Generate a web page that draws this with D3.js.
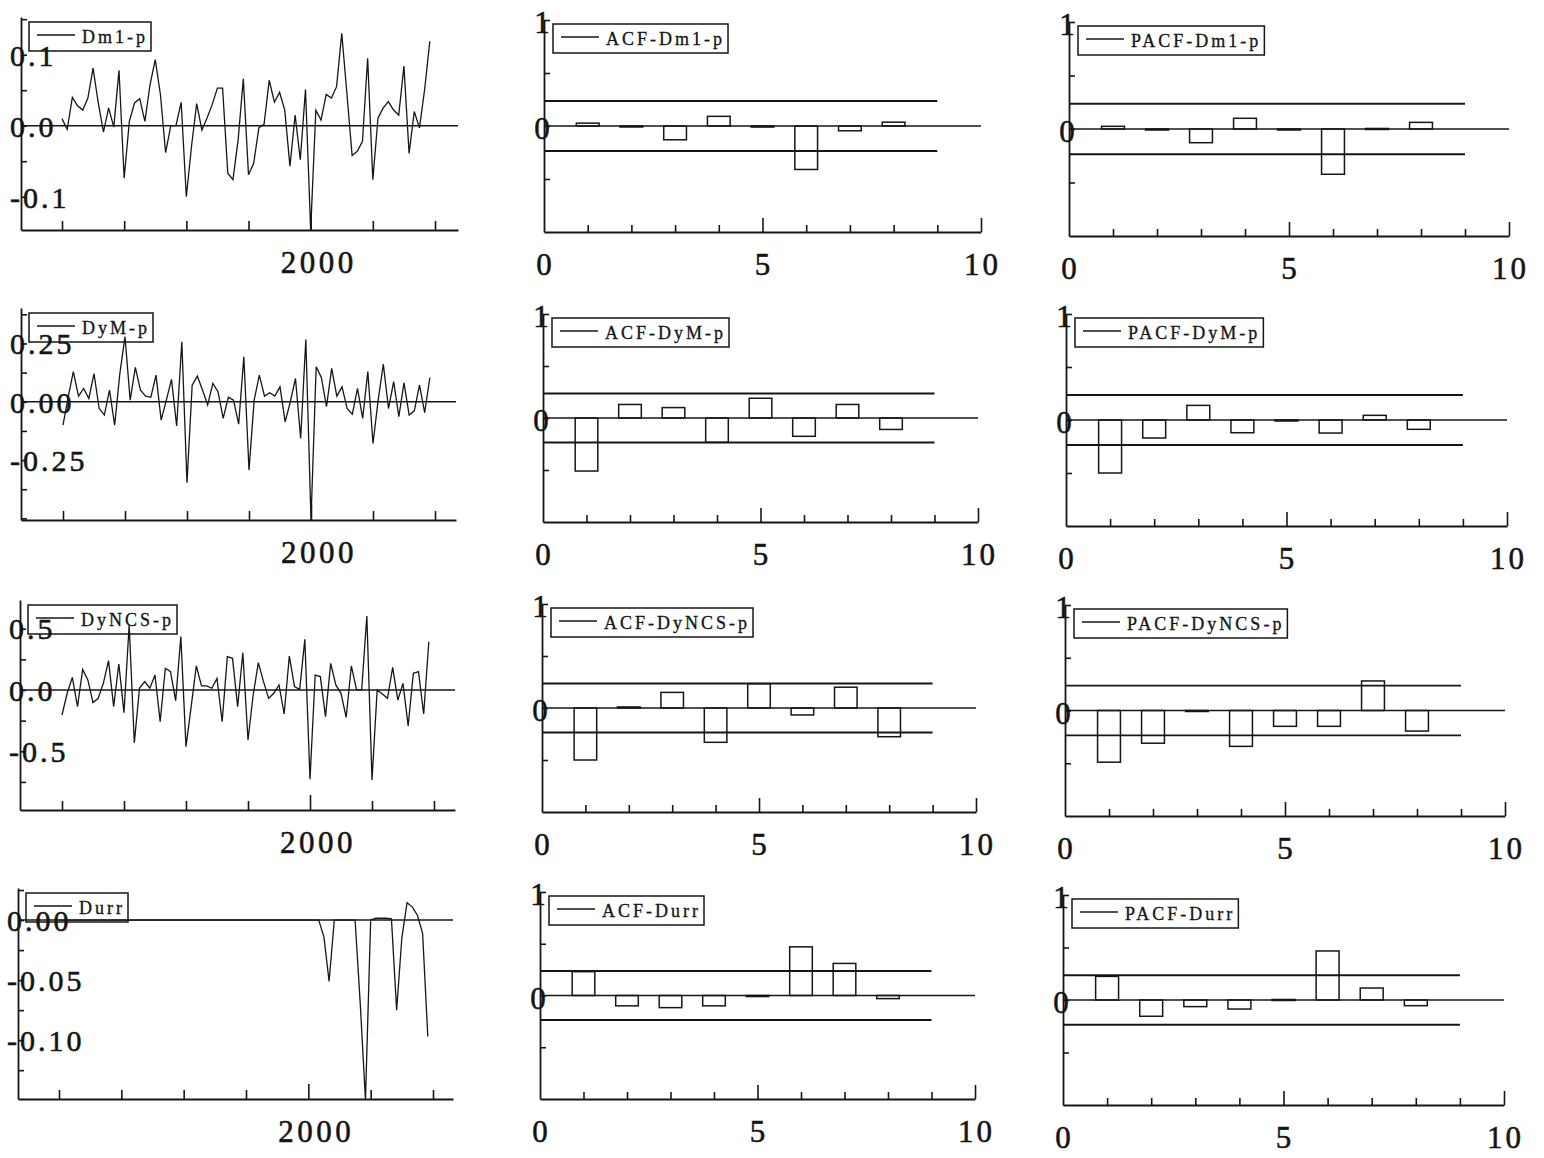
<!DOCTYPE html>
<html>
<head>
<meta charset="utf-8">
<script src="https://cdn.jsdelivr.net/npm/d3@7"></script>
<style>
  html, body { margin: 0; padding: 0; background: #fff; }
  svg text { font-family: "Liberation Serif", "Times New Roman", serif; fill: #141414; }
  svg text.tick-label { stroke: #141414; stroke-width: 0.55px; }
  svg text.legend-label { stroke: #141414; stroke-width: 0.3px; }
</style>
</head>
<body>
<svg id="chart" width="1544" height="1158"></svg>
<script>
// ---------------- data ----------------
const seriesNames = ["Dm1-p", "DyM-p", "DyNCS-p", "Durr"];
const startYear = 1996;                       // monthly observations from January 1996

const dm1p = [0.010,-0.005,0.040,0.028,0.022,0.039,0.081,0.032,-0.009,0.025,
  -0.002,0.078,-0.074,0.006,0.032,0.038,0.006,0.058,0.093,0.044,
  -0.038,0.000,0.000,0.033,-0.100,-0.029,0.031,-0.006,0.011,0.030,
  0.053,0.053,-0.067,-0.076,-0.020,0.066,-0.069,-0.053,-0.003,0.002,
  0.064,0.033,0.047,0.022,-0.057,0.015,-0.048,0.051,-0.147,0.022,
  0.008,0.044,0.039,0.055,0.130,0.045,-0.042,-0.036,-0.022,0.095,
  -0.076,0.011,0.025,0.034,0.022,0.015,0.084,-0.039,0.020,-0.003,
  0.051,0.119];

const dymp = [-0.100,0.020,0.129,0.024,0.057,0.014,0.121,-0.029,-0.057,0.050,
  -0.100,0.121,0.279,0.007,0.147,0.050,0.024,0.019,0.114,-0.079,
  0.007,0.096,-0.104,0.257,-0.347,0.071,0.110,0.050,-0.014,0.079,
  0.043,-0.071,0.019,0.007,-0.096,0.193,-0.293,0.007,0.114,0.024,
  0.039,0.024,0.064,-0.086,0.000,0.100,-0.157,0.267,-0.507,0.150,
  0.104,-0.021,0.143,0.024,0.064,-0.029,-0.053,0.057,-0.071,0.129,
  -0.179,0.007,0.161,-0.029,0.086,-0.064,0.081,-0.057,-0.039,0.071,
  -0.047,0.103];

const dyncsp = [-0.204,-0.027,0.103,-0.136,0.168,0.082,-0.103,-0.068,0.054,0.239,
  -0.136,0.212,-0.185,0.530,-0.430,0.014,0.068,0.014,0.122,-0.258,
  0.177,0.150,-0.087,0.435,-0.462,-0.136,0.196,0.033,0.033,0.014,
  0.095,-0.258,0.272,0.258,-0.136,0.304,-0.408,-0.041,0.223,0.068,
  -0.068,-0.027,0.041,-0.196,0.277,0.027,0.005,0.413,-0.728,0.122,
  0.109,-0.217,0.217,0.041,-0.027,-0.223,0.196,0.005,0.000,0.603,
  -0.734,0.000,-0.033,-0.068,0.185,-0.082,0.054,-0.293,0.136,0.149,
  -0.196,0.394];

const durr = [0,0,0,0,0,0,0,0,0,0,
  0,0,0,0,0,0,0,0,0,0,
  0,0,0,0,0,0,0,0,0,0,
  0,0,0,0,0,0,0,0,0,0,
  0,0,0,0,0,0,0,0,0,0,
  0,-0.014,-0.051,0,0,0,0,0,-0.070,-0.150,
  0,0.0015,0.0015,0.0015,0.001,-0.075,-0.015,0.0144,0.011,0.004,
  -0.011,-0.097];

const lags = [1, 2, 3, 4, 5, 6, 7, 8];
const acfDm1p    = [0.027, -0.005, -0.130, 0.091, -0.010, -0.410, -0.045, 0.036];
const pacfDm1p   = [0.025, -0.005, -0.128, 0.100, -0.005, -0.423, 0.005, 0.062];
const acfDyMp    = [-0.510, 0.130, 0.100, -0.234, 0.190, -0.176, 0.130, -0.110];
const pacfDyMp   = [-0.500, -0.170, 0.138, -0.120, -0.005, -0.123, 0.044, -0.088];
const acfDyNCSp  = [-0.500, 0.010, 0.150, -0.330, 0.234, -0.067, 0.200, -0.276];
const pacfDyNCSp = [-0.490, -0.310, -0.005, -0.340, -0.150, -0.150, 0.280, -0.195];
const acfDurr    = [0.230, -0.100, -0.117, -0.100, -0.010, 0.470, 0.310, -0.030];
const pacfDurr   = [0.225, -0.155, -0.063, -0.086, 0.005, 0.467, 0.114, -0.054];
const confBand   = 0.236;                     // ±2/√n significance limits

// tick values and labels
const tsTickYears = [1996, 1997, 1998, 1999, 2000, 2001, 2002];
const tsLabelYears = [2000];
const tsYTicks = [
  [-0.1, -0.05, 0, 0.05, 0.1, 0.15],
  [-0.5, -0.375, -0.25, -0.125, 0, 0.125, 0.25, 0.375],
  [-0.75, -0.5, -0.25, 0, 0.25, 0.5],
  [-0.125, -0.1, -0.075, -0.05, -0.025, 0, 0.025]
];
const tsYLabelValues = [[0.1, 0, -0.1], [0.25, 0, -0.25], [0.5, 0, -0.5], [0, -0.05, -0.10]];
const tsYLabelText = [["0.1", "0.0", "-0.1"], ["0.25", "0.00", "-0.25"], ["0.5", "0.0", "-0.5"], ["0.00", "-0.05", "-0.10"]];
const lagTicks = [1, 2, 3, 4, 5, 6, 7, 8, 9, 10];
const lagMajorTicks = [5, 10];
const lagLabels = [0, 5, 10];
const corrYTicks = [-0.5, 0, 0.5, 1];
const corrYLabelValues = [1, 0];

// ---------------- layout ----------------
const tsLayout = [
  { ax: 21, top: 17,  bottom: 230,  right: 458, x0: 62, x1: 435, yDomain: [-0.1469, 0.1531] },
  { ax: 21, top: 308, bottom: 520,  right: 456, x0: 63, x1: 435, yDomain: [-0.507, 0.402] },
  { ax: 20, top: 600, bottom: 810,  right: 455, x0: 62, x1: 434, yDomain: [-0.979, 0.734] },
  { ax: 18, top: 888, bottom: 1099, right: 453, x0: 59, x1: 433, yDomain: [-0.149, 0.0267] }
];
const acfLayout = [
  { ax: 544, top: 20,  bottom: 232,  x10: 981 },
  { ax: 543, top: 314, bottom: 522,  x10: 978 },
  { ax: 542, top: 604, bottom: 812,  x10: 976 },
  { ax: 540, top: 892, bottom: 1099, x10: 975 }
];
const pacfLayout = [
  { ax: 1069, top: 22,  bottom: 236,  x10: 1509 },
  { ax: 1066, top: 314, bottom: 526,  x10: 1507 },
  { ax: 1065, top: 605, bottom: 816,  x10: 1505 },
  { ax: 1063, top: 895, bottom: 1105, x10: 1504 }
];

const INK = "#161616";
const svg = d3.select("#chart");

function legend(g, x0, y0, label) {
  const lg = g.append("g");
  const t = lg.append("text")
    .attr("class", "legend-label")
    .attr("x", x0 + 53).attr("y", y0 + 21)
    .attr("font-size", 18).attr("letter-spacing", 3)
    .text(label);
  const w = t.node().getComputedTextLength();
  lg.insert("rect", "text")
    .attr("x", x0).attr("y", y0)
    .attr("width", 53 + w + 3).attr("height", 29)
    .attr("fill", "none").attr("stroke", INK).attr("stroke-width", 1.5);
  lg.append("line")
    .attr("x1", x0 + 8).attr("x2", x0 + 46)
    .attr("y1", y0 + 13).attr("y2", y0 + 13)
    .attr("stroke", INK).attr("stroke-width", 1.3);
}

function styleAxis(sel) {
  sel.select(".domain").attr("stroke", INK).attr("stroke-width", 1.8);
  sel.selectAll(".tick line").attr("stroke", INK).attr("stroke-width", 1.6);
  sel.selectAll(".tick text").remove();
}

// ---------------- time-series panels ----------------
function drawSeries(row, values, name) {
  const cfg = tsLayout[row];
  const g = svg.append("g");
  const yearScale = d3.scaleLinear()
    .domain([tsTickYears[0], tsTickYears[tsTickYears.length - 1]])
    .range([cfg.x0, cfg.x1]);
  const x = d3.scaleLinear()
    .domain([yearScale.invert(cfg.ax), yearScale.invert(cfg.right)])
    .range([cfg.ax, cfg.right]);
  const y = d3.scaleLinear().domain(cfg.yDomain).range([cfg.bottom, cfg.top]);

  // zero reference
  g.append("line")
    .attr("x1", cfg.ax).attr("x2", cfg.right)
    .attr("y1", y(0)).attr("y2", y(0))
    .attr("stroke", INK).attr("stroke-width", 1.5);

  legend(g, cfg.ax + 8, cfg.top + 5, name);

  const pts = values.map((v, i) => ({ t: startYear + i / 12, v }));
  g.append("path")
    .datum(pts)
    .attr("fill", "none").attr("stroke", INK).attr("stroke-width", 1.3)
    .attr("stroke-linejoin", "miter")
    .attr("d", d3.line().x(d => x(d.t)).y(d => y(d.v)));

  const yAxis = g.append("g")
    .attr("transform", `translate(${cfg.ax},0)`)
    .call(d3.axisLeft(y).tickValues(tsYTicks[row]).tickSizeInner(-6).tickSizeOuter(0).tickFormat(""));
  styleAxis(yAxis);

  const xAxis = g.append("g")
    .attr("transform", `translate(0,${cfg.bottom})`)
    .call(d3.axisBottom(x).tickValues(tsTickYears).tickSizeInner(-9).tickSizeOuter(0).tickFormat(""));
  styleAxis(xAxis);
  xAxis.selectAll(".tick").filter(d => tsLabelYears.includes(d)).select("line").attr("y2", -15);

  g.selectAll("text.ylab")
    .data(tsYLabelValues[row])
    .join("text")
    .attr("class", "ylab tick-label")
    .attr("x", cfg.ax - 11)
    .attr("y", d => y(d))
    .attr("dy", "0.36em")
    .attr("font-size", 30).attr("letter-spacing", 3)
    .text((d, i) => tsYLabelText[row][i]);

  g.selectAll("text.xlab")
    .data(tsLabelYears)
    .join("text")
    .attr("class", "xlab tick-label")
    .attr("x", d => x(d) + 8)
    .attr("y", cfg.bottom + 43)
    .attr("text-anchor", "middle")
    .attr("font-size", 31).attr("letter-spacing", 3.5)
    .text(d => d);
}

// ---------------- correlogram panels ----------------
function drawCorrelogram(cfg, values, name) {
  const g = svg.append("g");
  const x = d3.scaleLinear().domain([0, 10]).range([cfg.ax, cfg.x10]);
  const y = d3.scaleLinear().domain([-1, 1]).range([cfg.bottom, cfg.top]);
  const barW = x(0.52) - x(0);

  legend(g, cfg.ax + 9, cfg.top + 4, name);

  // bars
  g.selectAll("rect.bar")
    .data(lags.map((k, i) => ({ k, v: values[i] })))
    .join("rect")
    .attr("class", "bar")
    .attr("x", d => x(d.k) - barW / 2)
    .attr("width", barW)
    .attr("y", d => Math.min(y(d.v), y(0)))
    .attr("height", d => Math.max(Math.abs(y(d.v) - y(0)), 1))
    .attr("fill", "none").attr("stroke", INK).attr("stroke-width", 1.5);

  // zero line and significance limits
  g.append("line")
    .attr("x1", x(0)).attr("x2", x(10)).attr("y1", y(0)).attr("y2", y(0))
    .attr("stroke", INK).attr("stroke-width", 1.6);
  g.selectAll("line.band")
    .data([confBand, -confBand])
    .join("line")
    .attr("class", "band")
    .attr("x1", x(0)).attr("x2", x(9))
    .attr("y1", d => y(d)).attr("y2", d => y(d))
    .attr("stroke", INK).attr("stroke-width", 1.9);

  const yAxis = g.append("g")
    .attr("transform", `translate(${cfg.ax},0)`)
    .call(d3.axisLeft(y).tickValues(corrYTicks).tickSizeInner(-6).tickSizeOuter(0).tickFormat(""));
  styleAxis(yAxis);

  const xAxis = g.append("g")
    .attr("transform", `translate(0,${cfg.bottom})`)
    .call(d3.axisBottom(x).tickValues(lagTicks).tickSizeInner(-7).tickSizeOuter(0).tickFormat(""));
  styleAxis(xAxis);
  xAxis.selectAll(".tick").filter(d => lagMajorTicks.includes(d)).select("line").attr("y2", -14);

  g.selectAll("text.ylab")
    .data(corrYLabelValues)
    .join("text")
    .attr("class", "ylab tick-label")
    .attr("x", cfg.ax - 2)
    .attr("y", d => y(d) + 2)
    .attr("dy", "0.36em")
    .attr("text-anchor", "middle")
    .attr("font-size", 31)
    .text(d => d);

  g.selectAll("text.xlab")
    .data(lagLabels)
    .join("text")
    .attr("class", "xlab tick-label")
    .attr("x", d => x(d) + 1.5)
    .attr("y", cfg.bottom + 43)
    .attr("text-anchor", "middle")
    .attr("font-size", 31).attr("letter-spacing", 3)
    .text(d => d);
}

const seriesData = [dm1p, dymp, dyncsp, durr];
const acfData = [acfDm1p, acfDyMp, acfDyNCSp, acfDurr];
const pacfData = [pacfDm1p, pacfDyMp, pacfDyNCSp, pacfDurr];

seriesNames.forEach((name, row) => {
  drawSeries(row, seriesData[row], name);
  drawCorrelogram(acfLayout[row], acfData[row], "ACF-" + name);
  drawCorrelogram(pacfLayout[row], pacfData[row], "PACF-" + name);
});
</script>
</body>
</html>
